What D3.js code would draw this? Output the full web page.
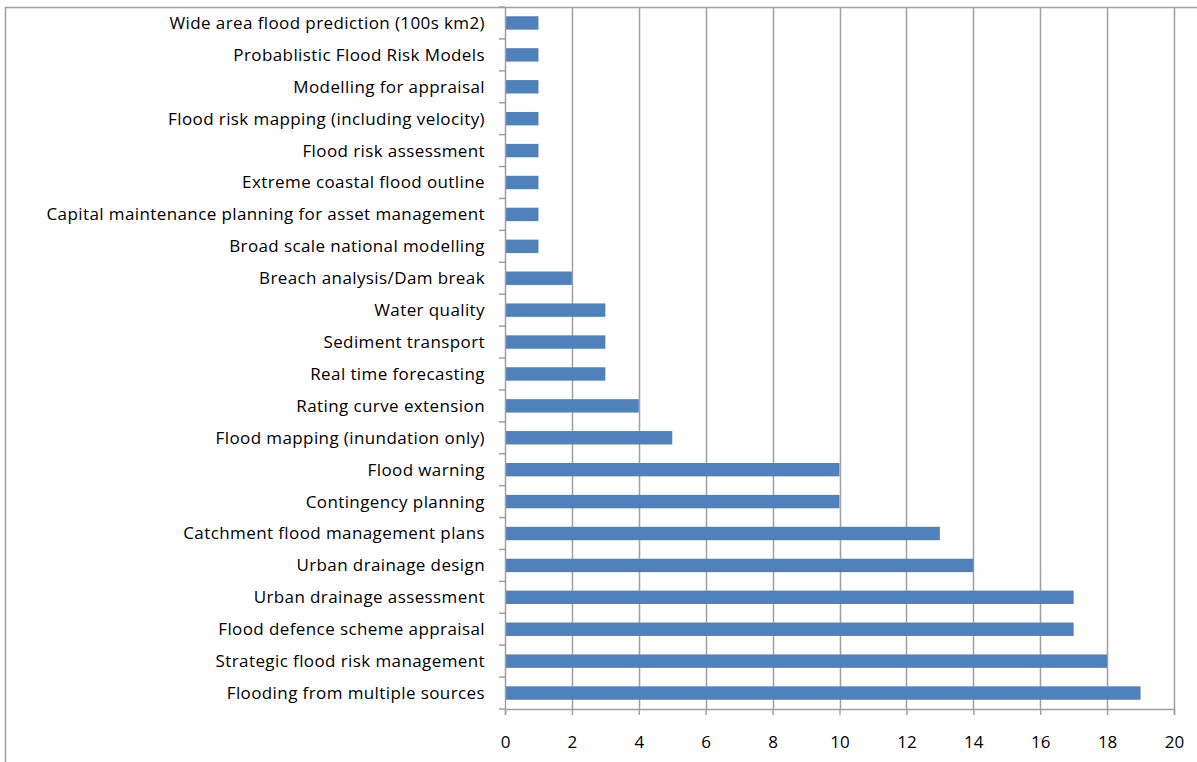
<!DOCTYPE html>
<html>
<head>
<meta charset="utf-8">
<script src="https://cdn.jsdelivr.net/npm/d3@7"></script>
<style>
  body { margin: 0; background: #fff; }
  text { font-family: "Open Sans", sans-serif; fill: #000; }
</style>
</head>
<body>
<svg id="chart" width="1197" height="762"></svg>
<script>
// categories top to bottom
const categories = [
  "Wide area flood prediction (100s km2)",
  "Probablistic Flood Risk Models",
  "Modelling for appraisal",
  "Flood risk mapping (including velocity)",
  "Flood risk assessment",
  "Extreme coastal flood outline",
  "Capital maintenance planning for asset management",
  "Broad scale national modelling",
  "Breach analysis/Dam break",
  "Water quality",
  "Sediment transport",
  "Real time forecasting",
  "Rating curve extension",
  "Flood mapping (inundation only)",
  "Flood warning",
  "Contingency planning",
  "Catchment flood management plans",
  "Urban drainage design",
  "Urban drainage assessment",
  "Flood defence scheme appraisal",
  "Strategic flood risk management",
  "Flooding from multiple sources"
];
const counts = [1, 1, 1, 1, 1, 1, 1, 1, 2, 3, 3, 3, 4, 5, 10, 10, 13, 14, 17, 17, 18, 19];
const xTicks = [0, 2, 4, 6, 8, 10, 12, 14, 16, 18, 20];

const svg = d3.select("#chart");
const plotLeft = 505, plotRight = 1174, plotTop = 7, plotBottom = 709;
const grey = "#a0a0a0";

// outer frame (top + left edges visible)
svg.append("line").attr("x1", 5).attr("x2", 1197).attr("y1", 7.5).attr("y2", 7.5)
  .attr("stroke", grey).attr("stroke-width", 1.5);
svg.append("line").attr("x1", 5.5).attr("x2", 5.5).attr("y1", 7).attr("y2", 762)
  .attr("stroke", grey).attr("stroke-width", 1.5);

const x = d3.scaleLinear().domain([0, 20]).range([plotLeft, plotRight]);
const y = d3.scaleBand().domain(categories).range([plotTop, plotBottom]).paddingInner(0.58).paddingOuter(0.29);

// vertical gridlines
svg.append("g").selectAll("line").data(xTicks.slice(1)).join("line")
  .attr("x1", d => Math.round(x(d)) + 0.5).attr("x2", d => Math.round(x(d)) + 0.5)
  .attr("y1", plotTop).attr("y2", plotBottom)
  .attr("stroke", grey).attr("stroke-width", 1.5);

// bars
svg.append("g").selectAll("rect").data(counts).join("rect")
  .attr("x", x(0))
  .attr("y", (d, i) => y(categories[i]))
  .attr("width", d => x(d) - x(0))
  .attr("height", y.bandwidth())
  .attr("fill", "#4f81bd");

// x axis
const xAxis = svg.append("g").attr("transform", `translate(0,${plotBottom})`)
  .call(d3.axisBottom(x).tickValues(xTicks).tickSize(6).tickPadding(21));
xAxis.select(".domain").attr("stroke", grey).attr("stroke-width", 1.5);
xAxis.selectAll(".tick line").attr("stroke", grey).attr("stroke-width", 1.5);
xAxis.selectAll("text").style("font-size", "17px").style("font-family", "'Open Sans', sans-serif");

// y axis line with ticks between categories
const step = (plotBottom - plotTop) / categories.length;
svg.append("line").attr("x1", plotLeft + 0.5).attr("x2", plotLeft + 0.5).attr("y1", plotTop).attr("y2", plotBottom)
  .attr("stroke", grey).attr("stroke-width", 1.5);
svg.append("g").selectAll("line").data(d3.range(categories.length + 1)).join("line")
  .attr("x1", plotLeft - 6).attr("x2", plotLeft)
  .attr("y1", d => plotTop + d * step).attr("y2", d => plotTop + d * step)
  .attr("stroke", grey).attr("stroke-width", 1.5);

// category labels
svg.append("g").selectAll("text").data(categories).join("text")
  .attr("x", 485)
  .attr("y", d => y(d) + y.bandwidth() / 2)
  .attr("dy", "0.35em")
  .attr("text-anchor", "end")
  .style("font-size", "17px")
  .style("letter-spacing", "0.4px")
  .text(d => d);
</script>
</body>
</html>
